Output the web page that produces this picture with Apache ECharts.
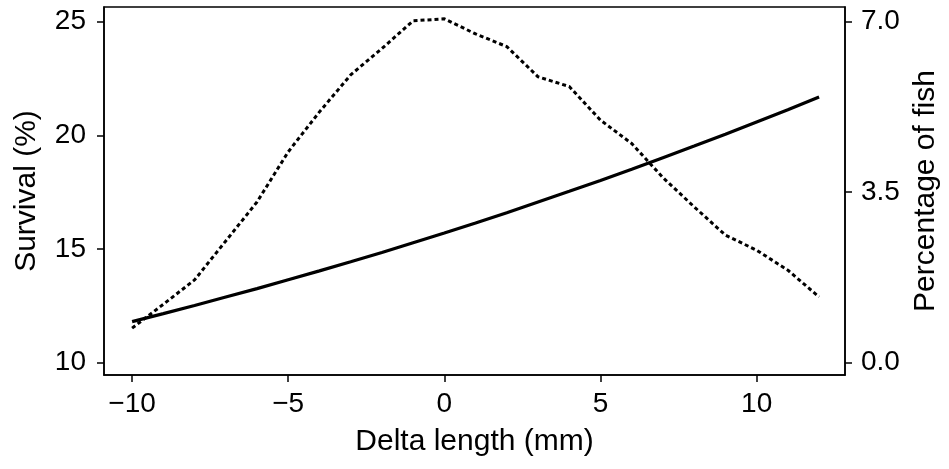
<!DOCTYPE html>
<html>
<head>
<meta charset="utf-8">
<script src="https://cdn.jsdelivr.net/npm/echarts@6/dist/echarts.min.js"></script>
<style>html,body{margin:0;padding:0;background:#fff}#c{width:949px;height:469px}</style>
</head>
<body>
<div id="c"></div>
<script>
// Data
var deltaLength = [-10,-9,-8,-7,-6,-5,-4,-3,-2,-1,0,1,2,3,4,5,6,7,8,9,10,11,12];
var survival = [11.81,12.16,12.52,12.89,13.26,13.65,14.04,14.44,14.85,15.28,15.71,16.15,16.60,17.07,17.54,18.02,18.51,19.02,19.53,20.05,20.59,21.13,21.69];
var percentFish = [0.71,1.2,1.70,2.5,3.3,4.33,5.15,5.91,6.45,7.02,7.06,6.75,6.49,5.87,5.67,4.98,4.5,3.8,3.2,2.62,2.31,1.9,1.35];
var xTicks = [-10,-5,0,5,10];
var leftTicks = [10,15,20,25];
var rightTicks = [0,3.5,7];

var FONT = '"Liberation Sans", Arial, Helvetica, sans-serif';
function pairs(xs, ys){ return xs.map(function(x,i){ return [x, ys[i]]; }); }

var chart = echarts.init(document.getElementById('c'), null, {renderer:'canvas'});
chart.setOption({
  animation:false,
  backgroundColor:'#fff',
  grid:{left:104,right:104,top:7,bottom:94,show:true,borderColor:'#000',borderWidth:1.5,containLabel:false},
  xAxis:{
    type:'value', min:-10.9, max:12.83,
    name:'Delta length (mm)', nameLocation:'middle', nameGap:52,
    nameTextStyle:{fontFamily:FONT,fontSize:30,color:'#000'},
    axisLine:{show:true,onZero:false,lineStyle:{color:'#000',width:1.5}},
    axisTick:{show:true,length:7,inside:false,customValues:xTicks,lineStyle:{color:'#000',width:1.5}},
    axisLabel:{customValues:xTicks,margin:15,fontFamily:FONT,fontSize:28,color:'#000',
      formatter:function(v){return v<0?'\u2212'+Math.abs(v):String(v);}},
    splitLine:{show:false}
  },
  yAxis:[{
    type:'value', position:'left', min:9.46, max:25.65,
    name:'Survival (%)', nameLocation:'middle', nameGap:62, nameRotate:90,
    nameTextStyle:{fontFamily:FONT,fontSize:30,color:'#000'},
    axisLine:{show:true,onZero:false,lineStyle:{color:'#000',width:1.5}},
    axisTick:{show:true,length:7,customValues:leftTicks,lineStyle:{color:'#000',width:1.5}},
    axisLabel:{customValues:leftTicks,margin:18,fontFamily:FONT,fontSize:28,color:'#000'},
    splitLine:{show:false}
  },{
    type:'value', position:'right', min:-0.252, max:7.303,
    name:'Percentage of fish', nameLocation:'middle', nameGap:62, nameRotate:90,
    nameTextStyle:{fontFamily:FONT,fontSize:30,color:'#000'},
    axisLine:{show:true,onZero:false,lineStyle:{color:'#000',width:1.5}},
    axisTick:{show:true,length:7,customValues:rightTicks,lineStyle:{color:'#000',width:1.5}},
    axisLabel:{customValues:rightTicks,margin:16,fontFamily:FONT,fontSize:28,color:'#000',
      formatter:function(v){return v.toFixed(1);}},
    splitLine:{show:false}
  }],
  series:[{
    name:'Survival', type:'line', yAxisIndex:0, data:pairs(deltaLength, survival),
    showSymbol:false, smooth:false,
    lineStyle:{color:'#000',width:3.2}
  },{
    name:'Percentage of fish', type:'line', yAxisIndex:1, data:pairs(deltaLength, percentFish),
    showSymbol:false, smooth:false,
    lineStyle:{color:'#000',width:3,type:[4,3]}
  }]
});
</script>
</body>
</html>
